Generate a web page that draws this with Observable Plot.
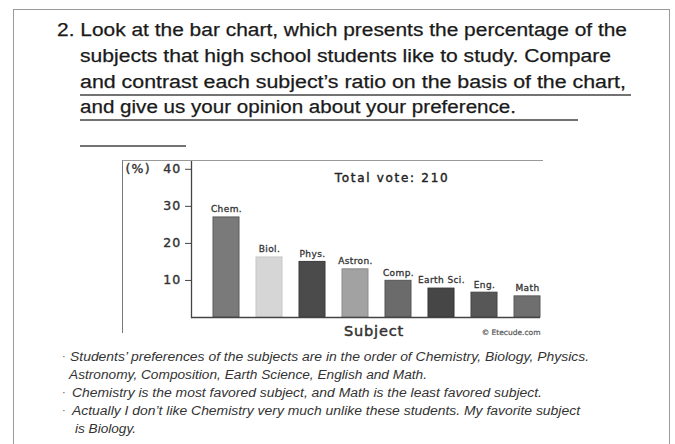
<!DOCTYPE html>
<html><head><meta charset="utf-8">
<script src="https://cdn.jsdelivr.net/npm/d3@7"></script>
<script src="https://cdn.jsdelivr.net/npm/@observablehq/plot@0.6"></script>
<style>
body{margin:0;background:#fff;}
#page{position:relative;width:675px;height:444px;overflow:hidden;background:#fff;}
#outer{position:absolute;left:13px;top:9px;width:657px;height:470px;border:1.5px solid #9a9a9a;box-sizing:border-box;}
#chartbox{position:absolute;left:122px;top:160px;width:421px;height:173px;border-left:1.5px solid #777;border-top:1.5px solid #999;box-sizing:border-box;}
#chart{position:absolute;left:123px;top:161px;}
#txt{position:absolute;left:0;top:0;}
</style></head><body>
<div id="page"><div id="outer"></div><svg id="txt" width="675" height="444"></svg><div id="chartbox"></div><div id="chart"></div></div>
<script>
const subjects = ["Chem.", "Biol.", "Phys.", "Astron.", "Comp.", "Earth Sci.", "Eng.", "Math"];
const percents = [27, 16.2, 15, 13, 9.9, 7.8, 6.7, 5.7];
const barColors = ["#7a7a7a", "#d6d6d6", "#4b4b4b", "#a2a2a2", "#6b6b6b", "#464646", "#575757", "#6f6f6f"];
const barStrokes = ["#5a5a5a", "#c6c6c6", "#3a3a3a", "#8c8c8c", "#555555", "#333333", "#444444", "#5a5a5a"];
const yTicks = [10, 20, 30, 40];
const yUnit = "(%)";
const chartTitle = "Total vote: 210";
const xTitle = "Subject";
const credit = "\u00a9 Etecude.com";

const questionLines = [
  "2. Look at the bar chart, which presents the percentage of the",
  "subjects that high school students like to study. Compare",
  "and contrast each subject\u2019s ratio on the basis of the chart,",
  "and give us your opinion about your preference."
];
const answerLines = [
  "Students\u2019 preferences of the subjects are in the order of Chemistry, Biology, Physics.",
  "Astronomy, Composition, Earth Science, English and Math.",
  "Chemistry is the most favored subject, and Math is the least favored subject.",
  "Actually I don\u2019t like Chemistry very much unlike these students. My favorite subject",
  "is Biology."
];
const answerBullets = [true, false, true, true, false];

const data = subjects.map((s, i) => ({subject: s, pct: percents[i], color: barColors[i], stroke: barStrokes[i]}));

// ---- page text ----
const svg = d3.select("#txt");
const qPos = [[57, 36, 570], [80, 62, 531], [80, 88, 546], [80, 113, 436]];
questionLines.forEach((t, i) => {
  svg.append("text").attr("x", qPos[i][0]).attr("y", qPos[i][1])
    .attr("textLength", qPos[i][2]).attr("lengthAdjust", "spacingAndGlyphs")
    .attr("font-family", "Liberation Sans, Arial, sans-serif").attr("font-size", 18)
    .attr("fill", "#1a1a1a").attr("stroke", "#1a1a1a").attr("stroke-width", 0.25).text(t);
});
[[80, 631, 95], [80, 578, 120], [80, 186, 146]].forEach(([x1, x2, y]) => {
  svg.append("line").attr("x1", x1).attr("x2", x2).attr("y1", y).attr("y2", y)
    .attr("stroke", "#444").attr("stroke-width", 1.4);
});
const aPos = [[70, 361, 519], [69, 379, 358], [72, 397, 470], [72, 415, 508], [75, 433, 61]];
answerLines.forEach((t, i) => {
  if (answerBullets[i]) {
    svg.append("text").attr("x", 62).attr("y", aPos[i][1] - 1)
      .attr("font-family", "Liberation Sans, Arial, sans-serif").attr("font-size", 11)
      .attr("fill", "#555").text("\u00b7");
  }
  svg.append("text").attr("x", aPos[i][0]).attr("y", aPos[i][1])
    .attr("textLength", aPos[i][2]).attr("lengthAdjust", "spacingAndGlyphs")
    .attr("font-family", "Liberation Sans, Arial, sans-serif").attr("font-size", 12)
    .attr("font-style", "italic").attr("fill", "#333").text(t);
});

// ---- chart ----
const chart = Plot.plot({
  width: 422,
  height: 178,
  marginLeft: 68,
  marginRight: 5,
  marginTop: 0,
  marginBottom: 22,
  style: {fontFamily: "DejaVu Sans, sans-serif", background: "transparent", color: "#333"},
  x: {domain: subjects, paddingInner: 0.4, paddingOuter: 0.2, align: 1, axis: null},
  y: {domain: [0, 42.1], axis: null},
  marks: [
    Plot.barY(data, {x: "subject", y: "pct", fill: "color", stroke: "stroke", strokeWidth: 1}),
    Plot.text(data, {x: "subject", y: "pct", text: "subject", dy: -8, fontSize: 9, fill: "#333", stroke: "#333", strokeWidth: 0.3, lineAnchor: "middle"}),
    Plot.ruleY([0], {stroke: "#444", strokeWidth: 1.5}),
    Plot.frame({anchor: "left", stroke: "#444", strokeWidth: 1.3}),
    Plot.axisY(yTicks, {tickSize: 6, tickPadding: 4, fontSize: 12.5, fill: "#333", stroke: "#444", label: null}),
    Plot.text([yUnit], {frameAnchor: "top-left", textAnchor: "start", lineAnchor: "middle", dx: -66, dy: 7.5, fontSize: 12.5, fill: "#333", stroke: "#333", strokeWidth: 0.4}),
    Plot.text([chartTitle], {frameAnchor: "top", lineAnchor: "middle", dx: 26, dy: 17, fontSize: 12, fill: "#222", stroke: "#222", strokeWidth: 0.4}),
    Plot.text([xTitle], {frameAnchor: "bottom", lineAnchor: "middle", dx: 8, dy: 13.5, fontSize: 14.5, fill: "#333", stroke: "#333", strokeWidth: 0.5}),
    Plot.text([credit], {frameAnchor: "bottom-right", textAnchor: "end", lineAnchor: "middle", dy: 15, fontSize: 7.5, fill: "#555", stroke: "#555", strokeWidth: 0.2})
  ]
});
document.getElementById("chart").appendChild(chart);
d3.select(chart).selectAll("text").each(function() {
  const t = this.textContent;
  if (t === chartTitle) this.setAttribute("letter-spacing", "1.7");
  else if (t === xTitle) this.setAttribute("letter-spacing", "0.8");
  else if (subjects.includes(t)) this.setAttribute("letter-spacing", "0.4");
  else if (t === yUnit) this.setAttribute("letter-spacing", "1.2");
  else if (yTicks.map(String).includes(t)) {
    this.setAttribute("letter-spacing", "1.2");
    this.setAttribute("stroke", "#333");
    this.setAttribute("stroke-width", "0.4");
  }
});
</script>
</body></html>
